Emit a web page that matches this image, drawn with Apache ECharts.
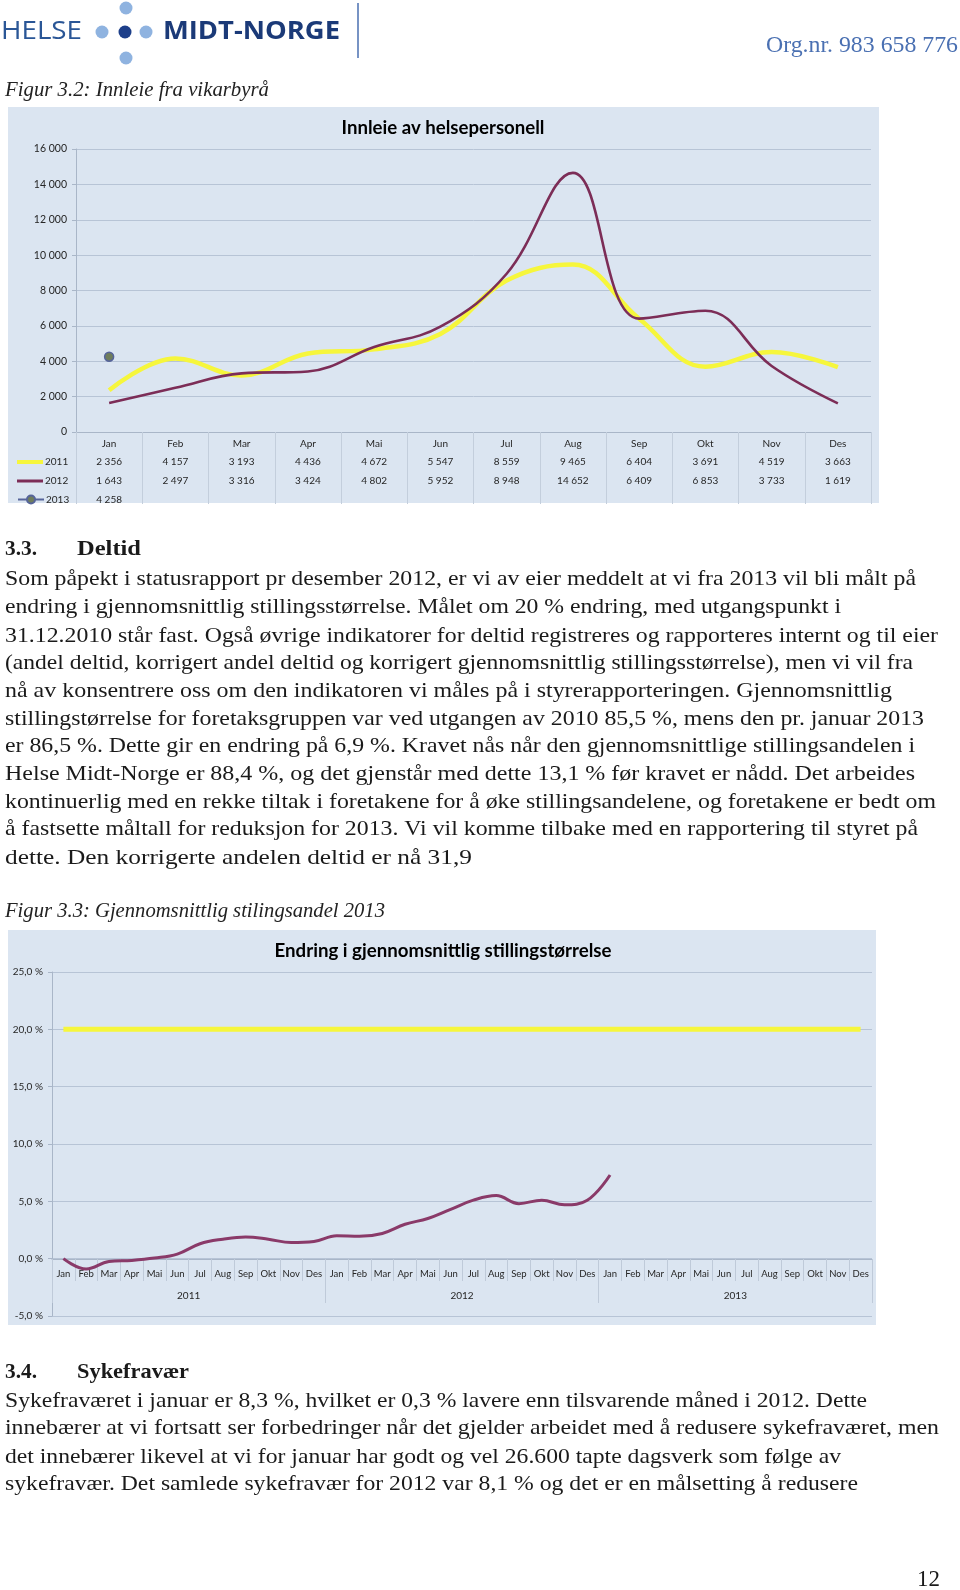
<!DOCTYPE html>
<html><head><meta charset="utf-8">
<script src="https://cdn.jsdelivr.net/npm/echarts@6/dist/echarts.min.js"></script>
<style>html,body{margin:0;padding:0;background:#fff}#c{width:960px;height:1590px}</style>
</head><body><div id="c"></div><script>
// ---------- data ----------
const months = ['Jan','Feb','Mar','Apr','Mai','Jun','Jul','Aug','Sep','Okt','Nov','Des'];
const years = ['2011','2012','2013'];
const innleie2011 = [2356,4157,3193,4436,4672,5547,8559,9465,6404,3691,4519,3663];
const innleie2012 = [1643,2497,3316,3424,4802,5952,8948,14652,6409,6853,3733,1619];
const innleie2013 = [4258];
const endringStilling = [0.0,-0.9,-0.25,-0.15,0.05,0.4,1.3,1.7,1.9,1.7,1.4,1.5,
                         2.0,1.95,2.2,3.0,3.5,4.3,5.1,5.5,4.8,5.1,4.7,5.1,
                         7.3];
const maalLinje = [20,20,20,20,20,20,20,20,20,20,20,20,
                   20,20,20,20,20,20,20,20,20,20,20,20,
                   20,20,20,20,20,20,20,20,20,20,20,20];

// ---------- document text ----------
const deltidLines = [
 'Som påpekt i statusrapport pr desember 2012, er vi av eier meddelt at vi fra 2013 vil bli målt på',
 'endring i gjennomsnittlig stillingsstørrelse. Målet om 20 % endring, med utgangspunkt i',
 '31.12.2010 står fast. Også øvrige indikatorer for deltid registreres og rapporteres internt og til eier',
 '(andel deltid, korrigert andel deltid og korrigert gjennomsnittlig stillingsstørrelse), men vi vil fra',
 'nå av konsentrere oss om den indikatoren vi måles på i styrerapporteringen. Gjennomsnittlig',
 'stillingstørrelse for foretaksgruppen var ved utgangen av 2010 85,5 %, mens den pr. januar 2013',
 'er 86,5 %. Dette gir en endring på 6,9 %. Kravet nås når den gjennomsnittlige stillingsandelen i',
 'Helse Midt-Norge er 88,4 %, og det gjenstår med dette 13,1 % før kravet er nådd. Det arbeides',
 'kontinuerlig med en rekke tiltak i foretakene for å øke stillingsandelene, og foretakene er bedt om',
 'å fastsette måltall for reduksjon for 2013. Vi vil komme tilbake med en rapportering til styret på',
 'dette. Den korrigerte andelen deltid er nå 31,9'
];
const deltidEnds = [916,841,938,913,892,924,915,915,936,918,472];
const deltidY = [579,607,636,663,691,719,746,774,802,829,858];
const sykeLines = [
 'Sykefraværet i januar er 8,3 %, hvilket er 0,3 % lavere enn tilsvarende måned i 2012. Dette',
 'innebærer at vi fortsatt ser forbedringer når det gjelder arbeidet med å redusere sykefraværet, men',
 'det innebærer likevel at vi for januar har godt og vel 26.600 tapte dagsverk som følge av',
 'sykefravær. Det samlede sykefravær for 2012 var 8,1 % og det er en målsetting å redusere'
];
const sykeEnds = [867,939,841,858];
const sykeY = [1401,1428,1457,1484];

// ---------- helpers ----------
const mctx = document.createElement('canvas').getContext('2d');
function fit(str, font, x, y, width, fill, align) {
  mctx.font = font;
  const w = mctx.measureText(str).width;
  const s = width ? width / w : 1;
  return {type:'text', x:x, y:y, scaleX:s, silent:true, z:5,
          style:{text:str, font:font, fill:fill || '#1a1a1a', verticalAlign:'middle', align:align || 'left'}};
}
const fmtThousands = n => String(n).replace(/\B(?=(\d{3})+(?!\d))/g, ' ');
const SERIF = "'Liberation Serif', 'DejaVu Serif', serif";
const BODY = '21px ' + SERIF;
const SANS = 'Lato, "Open Sans", sans-serif';

const graphics = [];
// panels
graphics.push({type:'rect', z:-10, silent:true, shape:{x:8,y:107,width:871,height:396}, style:{fill:'#dbe5f1'}});
graphics.push({type:'rect', z:-10, silent:true, shape:{x:8,y:930,width:868,height:395}, style:{fill:'#dbe5f1'}});
// logo
graphics.push(fit('HELSE', "400 25px 'Open Sans', sans-serif", 1, 32, 81, '#2a5696'));
graphics.push(fit('MIDT-NORGE', "700 25px 'Open Sans', sans-serif", 163, 32, 177, '#1b3a78'));
[[126,8,'#8fb3e0'],[102,32,'#8fb3e0'],[125,32,'#1d3f8a'],[146,32,'#8fb3e0'],[126,58,'#8fb3e0']].forEach(d=>{
  graphics.push({type:'circle', silent:true, shape:{cx:d[0],cy:d[1],r:6.5}, style:{fill:d[2]}});
});
graphics.push({type:'line', silent:true, shape:{x1:358,y1:3,x2:358,y2:58}, style:{stroke:'#4a6fb0', lineWidth:1.5}});
graphics.push(fit('Org.nr. 983 658 776', '23px ' + SERIF, 766, 46, 192, '#4a70b2'));
// captions
graphics.push(fit('Figur 3.2: Innleie fra vikarbyrå', 'italic 21px ' + SERIF, 5, 90, 264, '#222'));
graphics.push(fit('Figur 3.3: Gjennomsnittlig stilingsandel 2013', 'italic 21px ' + SERIF, 5, 911, 380, '#222'));
// chart titles
graphics.push(fit('Innleie av helsepersonell', 'bold 18px ' + SANS, 443, 128, 203, '#000', 'center'));
graphics.push(fit('Endring i gjennomsnittlig stillingstørrelse', 'bold 18px ' + SANS, 443, 951, 337, '#000', 'center'));
// headings
graphics.push(fit('3.3.', 'bold 21px ' + SERIF, 5, 550, 32));
graphics.push(fit('Deltid', 'bold 21px ' + SERIF, 77, 550, 64));
graphics.push(fit('3.4.', 'bold 21px ' + SERIF, 5, 1373, 32));
graphics.push(fit('Sykefravær', 'bold 21px ' + SERIF, 77, 1373, 112));
deltidLines.forEach((t,i)=>graphics.push(fit(t, BODY, 5, deltidY[i], deltidEnds[i]-5)));
sykeLines.forEach((t,i)=>graphics.push(fit(t, BODY, 5, sykeY[i], sykeEnds[i]-5)));
graphics.push(fit('12', '24px ' + SERIF, 917, 1580, 23));

// ---------- chart ----------
const cats36 = [];
years.forEach(y => months.forEach(m => cats36.push(y + ' ' + m)));
const gridLine = '#b7c4d6';
const axisCol = '#a9b6c8';
const txt = '#262626';
const legendText = {fontSize:10, lineHeight:10, color:txt, fontFamily:SANS, padding:[0,0,0,-3]};

const chart = echarts.init(document.getElementById('c'), null, {renderer:'canvas'});
chart.setOption({
  animation:false,
  backgroundColor:'#ffffff',
  textStyle:{fontFamily:SANS},
  graphic: graphics,
  legend:[
    {orient:'vertical', left:17, top:457, padding:0, itemWidth:26, itemHeight:4, icon:'rect',
     selectedMode:false, data:['2011'], textStyle:legendText},
    {orient:'vertical', left:17, top:476, padding:0, itemWidth:26, itemHeight:3, icon:'rect',
     selectedMode:false, data:['2012'], textStyle:legendText},
    {orient:'vertical', left:17, top:494.5, padding:0, itemWidth:26, itemHeight:10,
     selectedMode:false, data:['2013'], textStyle:legendText}
  ],
  grid:[
    {left:76, top:149, width:795, height:283},
    {left:52, top:972, width:820, height:344}
  ],
  xAxis:[
    {gridIndex:0, type:'category', data:months, boundaryGap:true, position:'bottom',
     axisLine:{lineStyle:{color:axisCol}},
     axisTick:{show:true, length:72, lineStyle:{color:'#c3cedc'}},
     axisLabel:{margin:2, interval:0, fontSize:10, lineHeight:18.7, color:txt, fontFamily:SANS,
       formatter:function(v, i){
         let s = v + '\n{n|' + fmtThousands(innleie2011[i]) + '}\n{n|' + fmtThousands(innleie2012[i]) + '}';
         if (innleie2013[i] != null) s += '\n{n|' + fmtThousands(innleie2013[i]) + '}';
         return s;
       },
       rich:{n:{fontSize:10, lineHeight:18.7, color:txt, fontFamily:SANS}}}},
    {gridIndex:1, type:'category', data:cats36, boundaryGap:true, position:'bottom', offset:-57,
     axisLine:{onZero:false, lineStyle:{color:axisCol}},
     axisTick:{show:true, length:22, lineStyle:{color:'#bfcad9'}},
     axisLabel:{margin:10, interval:0, fontSize:9.5, color:txt, fontFamily:SANS,
       formatter:v => v.split(' ')[1]}},
    {gridIndex:1, type:'category', data:years, boundaryGap:true, position:'bottom', offset:-57,
     axisLine:{show:false, onZero:false},
     axisTick:{show:true, length:44, lineStyle:{color:'#bfcad9'}},
     axisLabel:{margin:32, fontSize:10, color:txt, fontFamily:SANS}}
  ],
  yAxis:[
    {gridIndex:0, type:'value', min:0, max:16000, interval:2000,
     axisLine:{show:true, lineStyle:{color:axisCol}},
     axisTick:{show:true, length:4, lineStyle:{color:axisCol}},
     splitLine:{lineStyle:{color:gridLine}},
     axisLabel:{margin:9, fontSize:10.5, color:txt, fontFamily:SANS, formatter:v => fmtThousands(v)}},
    {gridIndex:1, type:'value', min:-5, max:25, interval:5,
     axisLine:{show:true, lineStyle:{color:axisCol}},
     axisTick:{show:true, length:4, lineStyle:{color:axisCol}},
     splitLine:{lineStyle:{color:gridLine}},
     axisLabel:{margin:9, fontSize:10, color:txt, fontFamily:SANS,
       formatter:v => v.toFixed(1).replace('.', ',') + ' %'}}
  ],
  series:[
    {name:'2011', type:'line', xAxisIndex:0, yAxisIndex:0, data:innleie2011, smooth:0.4,
     symbol:'none', lineStyle:{color:'#f6f63c', width:4.5}, itemStyle:{color:'#f6f63c'}, z:3},
    {name:'2012', type:'line', xAxisIndex:0, yAxisIndex:0, data:innleie2012, smooth:0.4,
     symbol:'none', lineStyle:{color:'#7c2d57', width:2.6}, itemStyle:{color:'#7c2d57'}, z:4},
    {name:'2013', type:'line', xAxisIndex:0, yAxisIndex:0, data:innleie2013,
     symbol:'circle', symbolSize:9, showSymbol:true,
     lineStyle:{color:'#56649a', width:2.5},
     itemStyle:{color:'#6f7d5c', borderColor:'#56649a', borderWidth:1.5}, z:5},
    {name:'Mål', type:'line', xAxisIndex:1, yAxisIndex:1, data:maalLinje,
     symbol:'none', lineStyle:{color:'#f6f63c', width:5}, itemStyle:{color:'#f6f63c'}, z:3},
    {name:'Endring', type:'line', xAxisIndex:1, yAxisIndex:1, data:endringStilling, smooth:0.4,
     symbol:'none', lineStyle:{color:'#8a3a69', width:3}, itemStyle:{color:'#8a3a69'}, z:4}
  ]
});
</script></body></html>
